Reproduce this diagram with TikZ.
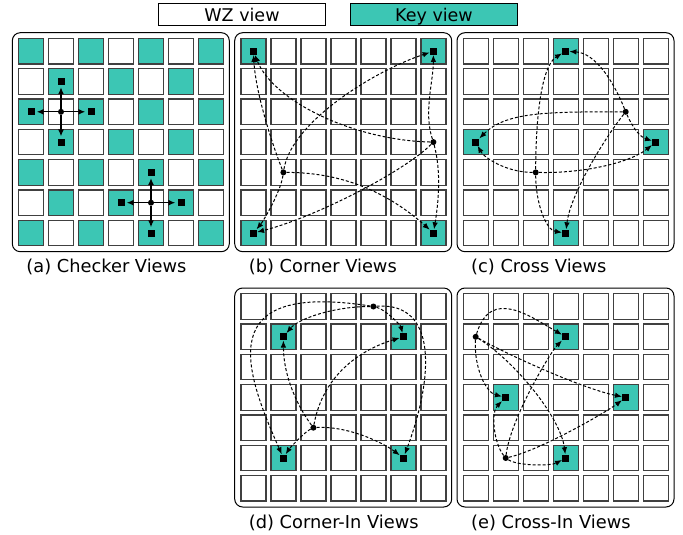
\documentclass[tikz,border=0pt]{standalone}
\usepackage{fontspec}
\setmainfont{DejaVu Sans}
\usetikzlibrary{arrows.meta}
\definecolor{keyteal}{RGB}{60,198,180}
\newcommand\viewgrid[4]{%
  \node[panelframe] (#1frame) at ({#2+108.5},{#3+109.5}) {};
  \foreach \cc in {0,...,6}{\foreach \rr in {0,...,6}{%
    \pgfmathtruncatemacro\iskey{#4}%
    \ifnum\iskey=1 \def\cellstyle{keycell}\else\def\cellstyle{wzcell}\fi
    \node[\cellstyle] (#1-\cc-\rr) at ({#2+18.7+30*\cc},{#3+18.5+30.3*\rr}) {};
  }}%
}
\begin{document}
\begin{tikzpicture}[x=1pt,y=-1pt,
  panelframe/.style={draw=black, line width=1pt, rounded corners=8pt, minimum width=217pt, minimum height=219pt, inner sep=0pt},
  wzcell/.style={draw=black!75, fill=white, line width=1.2pt, minimum width=25pt, minimum height=25.5pt, inner sep=0pt},
  keycell/.style={wzcell, fill=keyteal},
  keysq/.style={fill=black, minimum size=7pt, inner sep=0pt},
  viewdot/.style={circle, fill=black, minimum size=6pt, inner sep=0pt},
  vline/.style={dash pattern=on 3pt off 2pt, line width=1pt, -{Latex[length=7pt,width=5.5pt]}},
  harrow/.style={line width=1.3pt, -{Latex[length=7pt,width=6pt]}, shorten >=2pt},
  legendbox/.style={draw, line width=1pt, minimum width=167pt, minimum height=22pt, inner sep=0pt, font=\fontsize{17.5}{20}\selectfont, text height=12.8pt, text depth=0pt},
  captext/.style={anchor=base west, inner sep=0pt, font=\fontsize{17.8}{20}\selectfont}]
\useasboundingbox (0,0) rectangle (683,535);

% legend
\node[legendbox, fill=white] (wzlegend) at (242,15) {WZ view};
\node[legendbox, fill=keyteal] (keylegend) at (434,15) {Key view};

% grids
\viewgrid{a}{12.3}{32.7}{mod(\cc+\rr,2)==0}
\viewgrid{b}{234.7}{32.7}{(\cc==0||\cc==6)&&(\rr==0||\rr==6)}
\viewgrid{c}{457}{32.7}{(\cc==3&&(\rr==0||\rr==6))||(\rr==3&&(\cc==0||\cc==6))}
\viewgrid{d}{234.7}{288}{(\cc==1||\cc==5)&&(\rr==1||\rr==5)}
\viewgrid{e}{457}{288}{(\cc==3&&(\rr==1||\rr==5))||(\rr==3&&(\cc==1||\cc==5))}

% (a) checker views
\node[viewdot] (aD1) at (a-1-2) {};
\node[keysq] (aK11) at (a-1-1) {};
\node[keysq] (aK02) at (a-0-2) {};
\node[keysq] (aK22) at (a-2-2) {};
\node[keysq] (aK13) at (a-1-3) {};
\node[viewdot] (aD2) at (a-4-5) {};
\node[keysq] (aK44) at (a-4-4) {};
\node[keysq] (aK35) at (a-3-5) {};
\node[keysq] (aK55) at (a-5-5) {};
\node[keysq] (aK46) at (a-4-6) {};
\foreach \k in {aK11,aK02,aK22,aK13} \draw[harrow] (aD1) -- (\k);
\foreach \k in {aK44,aK35,aK55,aK46} \draw[harrow] (aD2) -- (\k);

% (b) corner views
\node[keysq] (bK00) at (b-0-0) {};
\node[keysq] (bK60) at (b-6-0) {};
\node[keysq] (bK06) at (b-0-6) {};
\node[keysq] (bK66) at (b-6-6) {};
\node[viewdot] (bD1) at (b-1-4) {};
\node[viewdot] (bD2) at (b-6-3) {};
\draw[vline] (bD1) .. controls +(-12,-30) and +(2,40) .. (bK00);
\draw[vline] (bD1) .. controls +(-3,20) and +(10,-12) .. (bK06);
\draw[vline] (bD1) .. controls +(8,-50) and +(-60,20) .. (bK60);
\draw[vline] (bD1) .. controls +(60,0) and +(-45,-40) .. (bK66);
\draw[vline] (bD2) .. controls +(-80,-2) and +(20,50) .. (bK00);
\draw[vline] (bD2) .. controls +(-10,-30) and +(0,30) .. (bK60);
\draw[vline] (bD2) .. controls +(-30,30) and +(60,-15) .. (bK06);
\draw[vline] (bD2) .. controls +(8,30) and +(5,-30) .. (bK66);

% (c) cross views
\node[keysq] (cK30) at (c-3-0) {};
\node[keysq] (cK03) at (c-0-3) {};
\node[keysq] (cK63) at (c-6-3) {};
\node[keysq] (cK36) at (c-3-6) {};
\node[viewdot] (cD1) at (c-5-2) {};
\node[viewdot] (cD2) at (c-2-4) {};
\draw[vline] (cD1) .. controls +(-12,-30) and +(30,2) .. (cK30);
\draw[vline] (cD1) .. controls +(-80,0) and +(30,-30) .. (cK03);
\draw[vline] (cD1) .. controls +(8,18) and +(-15,-5) .. (cK63);
\draw[vline] (cD1) .. controls +(-20,25) and +(5,-40) .. (cK36);
\draw[vline] (cD2) .. controls +(0,-50) and +(-25,15) .. (cK30);
\draw[vline] (cD2) .. controls +(-30,0) and +(8,15) .. (cK03);
\draw[vline] (cD2) .. controls +(50,1) and +(-25,20) .. (cK63);
\draw[vline] (cD2) .. controls +(0,30) and +(-20,-3) .. (cK36);

% (d) corner-in views
\node[keysq] (dK11) at (d-1-1) {};
\node[keysq] (dK51) at (d-5-1) {};
\node[keysq] (dK15) at (d-1-5) {};
\node[keysq] (dK55) at (d-5-5) {};
\node[viewdot] (dD1) at (d-4-0) {};
\node[viewdot] (dD2) at (d-2-4) {};
\draw[vline] (dD1) .. controls +(-40,0) and +(15,-18) .. (dK11);
\draw[vline] (dD1) .. controls +(12,3) and +(-3,-12) .. (dK51);
\draw[vline] (dD1) .. controls +(-160,-25) and +(-40,-90) .. (dK15);
\draw[vline] (dD1) .. controls +(65,-5) and +(30,-80) .. (dK55);
\draw[vline] (dD2) .. controls +(-15,-20) and +(0,40) .. (dK11);
\draw[vline] (dD2) .. controls +(10,-55) and +(-40,12) .. (dK51);
\draw[vline] (dD2) .. controls +(-10,5) and +(5,-8) .. (dK15);
\draw[vline] (dD2) .. controls +(35,-2) and +(-20,-15) .. (dK55);

% (e) cross-in views
\node[keysq] (eK31) at (e-3-1) {};
\node[keysq] (eK13) at (e-1-3) {};
\node[keysq] (eK53) at (e-5-3) {};
\node[keysq] (eK35) at (e-3-5) {};
\node[viewdot] (eD1) at (e-0-1) {};
\node[viewdot] (eD2) at (e-1-5) {};
\draw[vline] (eD1) .. controls +(15,-50) and +(-35,-20) .. (eK31);
\draw[vline] (eD1) .. controls +(-2,30) and +(-20,-5) .. (eK13);
\draw[vline] (eD1) .. controls +(40,22) and +(-40,-8) .. (eK53);
\draw[vline] (eD1) .. controls +(40,25) and +(-5,-40) .. (eK35);
\draw[vline] (eD2) .. controls +(5,-40) and +(-15,15) .. (eK31);
\draw[vline] (eD2) .. controls +(-12,-15) and +(-15,15) .. (eK13);
\draw[vline] (eD2) .. controls +(35,-8) and +(-20,15) .. (eK53);
\draw[vline] (eD2) .. controls +(12,8) and +(-15,8) .. (eK35);

% captions
\node[captext] (capa) at (26.3,272) {(a) Checker Views};
\node[captext] (capb) at (248.7,272) {(b) Corner Views};
\node[captext] (capc) at (471,272) {(c) Cross Views};
\node[captext] (capd) at (248.7,528) {(d) Corner-In Views};
\node[captext] (cape) at (471,528) {(e) Cross-In Views};
\end{tikzpicture}
\end{document}
